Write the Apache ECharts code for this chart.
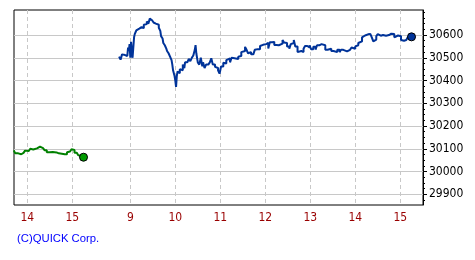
<!DOCTYPE html>
<html>
<head>
<meta charset="utf-8">
<script src="https://cdn.jsdelivr.net/npm/echarts@6/dist/echarts.min.js"></script>
<style>
html,body{margin:0;padding:0;background:#fff;}
#c{width:475px;height:260px;}
</style>
</head>
<body>
<div id="c"></div>
<script>
// previous session (green)
const prevTimes = ['13:42','13:44','13:48','13:52','13:55','13:57','13:59','14:02','14:04','14:06','14:08','14:10','14:13','14:15','14:17','14:19','14:21','14:23','14:26','14:30','14:34','14:39','14:42','14:46','14:50','14:53','14:55','14:57','14:59','15:01','15:03','15:06','15:08','15:10','15:13','15:15'];
const prevValues = [30093,30080,30076,30082,30082,30092,30090,30090,30100,30097,30097,30102,30103,30110,30108,30103,30100,30094,30085,30086,30084,30080,30078,30076,30076,30085,30088,30090,30098,30095,30083,30080,30072,30070,30066,30063];

// today session (blue)
const todayTimes = ['08:45','08:47','08:49','08:51','08:53','08:56','08:57','08:58','08:59','09:00','09:01','09:02','09:03','09:05','09:06','09:08','09:09','09:12','09:15','09:17','09:18','09:20','09:22','09:24','09:26','09:28','09:29','09:31','09:33','09:34','09:36','09:38','09:40','09:41','09:43','09:44','09:46','09:48','09:49','09:51','09:53','09:55','09:56','09:57','09:59','10:00','10:01','10:02','10:03','10:05','10:06','10:08','10:10','10:12','10:13','10:16','10:18','10:20','10:22',
'10:24','10:26','10:27','10:28','10:30','10:32','10:34','10:36','10:37','10:39','10:41','10:44','10:46','10:48','10:50','10:53','10:55','10:57','10:59','11:01','11:04','11:06','11:08','11:10','11:13','11:15','11:17','11:19','11:21','11:24','11:26','11:28','11:30','11:33','11:35','11:37','11:39','11:41','11:44','11:46','11:48','11:50','11:53','11:55','11:57','11:59','12:01','12:04',
'12:06','12:09','12:12','12:15','12:18','12:20','12:23','12:25','12:27','12:29','12:32','12:34','12:36','12:38','12:40','12:43','12:45','12:48','12:51','12:53','12:56','12:59','13:01','13:04','13:07','13:09','13:12','13:15','13:17','13:20','13:23','13:25','13:28','13:31','13:33','13:36','13:39','13:41','13:44',
'13:46','13:49','13:51','13:53','13:55','13:57','14:00','14:02','14:04','14:06','14:09','14:11','14:13','14:15','14:17','14:20','14:22','14:24','14:25','14:28','14:30','14:32','14:34','14:37','14:39','14:41','14:43','14:45','14:48','14:50','14:52','14:54','14:57','14:59','15:01','15:03','15:05','15:08','15:10','15:12','15:15'];
const todayValues = [30505,30492,30515,30512,30508,30510,30545,30530,30560,30500,30570,30530,30500,30590,30605,30620,30628,30635,30640,30630,30645,30648,30660,30650,30672,30665,30668,30655,30650,30642,30645,30632,30618,30595,30585,30565,30555,30540,30530,30520,30505,30490,30470,30445,30420,30400,30372,30420,30440,30432,30450,30445,30470,30455,30480,30475,30495,30485,30500,
30510,30535,30556,30520,30480,30470,30500,30462,30480,30455,30470,30462,30480,30498,30470,30460,30455,30445,30430,30462,30478,30475,30490,30497,30480,30500,30498,30502,30495,30505,30508,30525,30530,30548,30535,30520,30525,30515,30518,30535,30538,30537,30552,30557,30556,30560,30565,30541,
30568,30570,30556,30555,30556,30562,30578,30567,30565,30550,30540,30560,30565,30578,30550,30525,30530,30525,30540,30552,30545,30555,30538,30548,30536,30555,30560,30562,30555,30535,30535,30540,30530,30532,30525,30535,30525,30535,30532,
30528,30525,30535,30530,30545,30540,30550,30555,30565,30572,30590,30598,30596,30603,30605,30600,30590,30572,30580,30595,30604,30597,30600,30598,30597,30598,30600,30606,30603,30605,30590,30598,30600,30595,30578,30575,30578,30585,30590,30592,30592];

// axis ticks
const yTickValues = [29900,30000,30100,30200,30300,30400,30500,30600];
const xTickTimes = ['14:00','15:00','09:00','10:00','11:00','12:00','13:00','14:00','15:00'];
const xTickDays = ['prev','prev','today','today','today','today','today','today','today'];
const xTickLabels = ['14','15','9','10','11','12','13','14','15'];
const copyright = '(C)QUICK Corp.';

// layout constants
const PREV_SHIFT = 437.4; // minutes the previous session is shifted left
const X_MIN = 384.9, X_MAX = 930.3;
const Y_MIN = 29853, Y_MAX = 30710;

function toMin(t){const p=t.split(':');return (+p[0])*60+(+p[1]);}
function pos(t, day){return toMin(t) - (day==='prev'?PREV_SHIFT:0);}

const prevData = prevTimes.map((t,i)=>[pos(t,'prev'), prevValues[i]]);
const todayData = todayTimes.map((t,i)=>[pos(t,'today'), todayValues[i]]);
const xTickPos = xTickTimes.map((t,i)=>pos(t, xTickDays[i]));
const minorTicks = [];
for (let v = 29875; v <= 30700; v += 25) minorTicks.push(v);

const FONT = '"Liberation Sans Narrow", "DejaVu Sans Condensed", "Liberation Sans", sans-serif';
const chart = echarts.init(document.getElementById('c'), null, {renderer:'canvas'});
chart.setOption({
  animation:false,
  backgroundColor:'#fff',
  grid:{left:14, top:10, width:409, height:195, show:true, borderColor:'#000', borderWidth:1, backgroundColor:'transparent'},
  xAxis:{
    type:'value', min:X_MIN, max:X_MAX,
    axisLine:{show:false},
    axisTick:{show:false, customValues:xTickPos},
    splitLine:{show:true, lineStyle:{color:'#c8c8c8', type:[4,3], width:1}},
    axisLabel:{
      customValues:xTickPos, margin:7, fontFamily:FONT, fontSize:12,
      formatter:function(v){const i=xTickPos.indexOf(v);return i>=0?xTickLabels[i]:'';},
      color:function(v){const i=xTickPos.indexOf(v);return (i>=0&&xTickDays[i]==='prev')?'#008080':'#990000';}
    }
  },
  yAxis:[{
    type:'value', position:'right', min:Y_MIN, max:Y_MAX,
    axisLine:{show:true, lineStyle:{color:'#000', width:1}},
    axisTick:{show:true, inside:false, length:4, customValues:yTickValues, lineStyle:{color:'#000'}},
    splitLine:{show:true, lineStyle:{color:'#c8c8c8', width:1, type:'solid'}},
    axisLabel:{customValues:yTickValues, margin:6, color:'#000', fontFamily:FONT, fontSize:12,
      formatter:function(v){return String(Math.round(v));}}
  },{
    type:'value', position:'right', min:Y_MIN, max:Y_MAX,
    axisLine:{show:false},
    axisTick:{show:true, inside:false, length:2, customValues:minorTicks, lineStyle:{color:'#000'}},
    splitLine:{show:false},
    axisLabel:{show:false}
  }],
  graphic:[{
    type:'text', left:17, top:233,
    style:{text:copyright, fill:'#0000ff', font:'11.3px "Liberation Sans"'}
  }],
  series:[
    {type:'line', data:prevData, step:'end', showSymbol:false, lineStyle:{color:'#008000', width:2}, z:3},
    {type:'line', data:todayData, step:'end', showSymbol:false, lineStyle:{color:'#003399', width:2}, z:3},
    {type:'scatter', data:[prevData[prevData.length-1]], symbol:'circle', symbolSize:8, itemStyle:{color:'#009900', borderColor:'#000', borderWidth:1, opacity:1}, z:4},
    {type:'scatter', data:[todayData[todayData.length-1]], symbol:'circle', symbolSize:8, itemStyle:{color:'#003399', borderColor:'#000', borderWidth:1, opacity:1}, z:4}
  ]
});
</script>
</body>
</html>
